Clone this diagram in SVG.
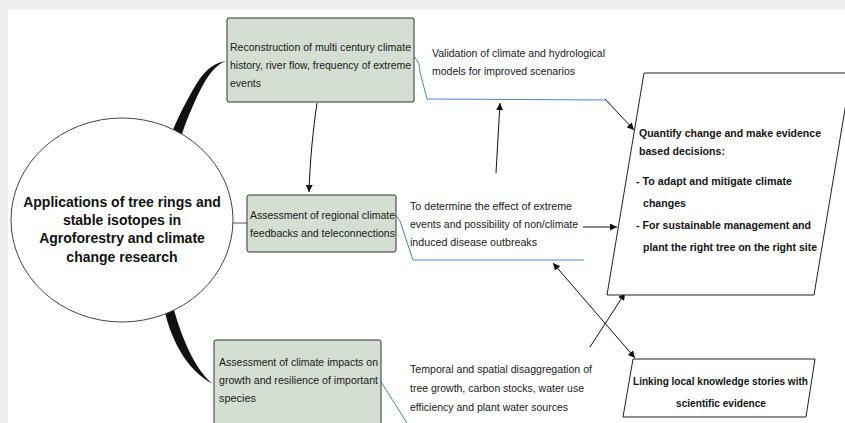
<svg xmlns="http://www.w3.org/2000/svg" width="845" height="423" viewBox="0 0 845 423">
<style>
  .t { font-family: "Liberation Sans", Arial, sans-serif; font-size: 11.5px; fill: #1a1a1a; }
  .b { font-family: "Liberation Sans", Arial, sans-serif; font-size: 11.5px; font-weight: bold; fill: #141414; }
  .h { font-family: "Liberation Sans", Arial, sans-serif; font-size: 14px; font-weight: bold; fill: #111; text-anchor: middle; }
  .box { fill: #d4ded2; stroke: #333; stroke-width: 1; }
  .para { fill: #fff; stroke: #222; stroke-width: 1; }
  .blue { fill: none; stroke: #4a86c0; stroke-width: 1; }
  .arr { fill: none; stroke: #111; stroke-width: 1; }
</style>
<defs>
  <marker id="ah" viewBox="0 0 10 10" refX="10" refY="5" markerWidth="8" markerHeight="7" markerUnits="userSpaceOnUse" orient="auto-start-reverse">
    <path d="M0,0 L10,5 L0,10 z" fill="#111"/>
  </marker>
</defs>
<rect x="0" y="0" width="845" height="423" fill="#efefef"/>
<rect x="8" y="9" width="837" height="414" fill="#ffffff"/>

<g id="connectors">
  <path d="M 227,61 C 215,62 205,70 197,83 C 189,96 180,113 172,132 L 182,134 C 188,116 196,98 203,85 C 210,72 218,63 227,61 Z" fill="#111"/>
  <path d="M 165,313 C 172,340 186,370 213,384 C 195,370 182,338 174,310 Z" fill="#111"/>
  <line x1="233" y1="223" x2="247" y2="223" stroke="#555" stroke-width="1"/>
  <path class="arr" d="M 317,103 C 313,130 310,160 309,192" marker-end="url(#ah)"/>
  <path class="blue" d="M 414,57 Q 420,62 420,72 L 427,99 L 605,100"/>
  <path class="arr" d="M 605,99 L 634,130" marker-end="url(#ah)"/>
  <path class="arr" d="M 496,173 L 500,103" marker-end="url(#ah)"/>
  <path class="blue" d="M 395,214 Q 401,220 403,230 L 413,260 L 584,260"/>
  <path class="arr" d="M 583,227 L 617,227" marker-end="url(#ah)"/>
  <path class="arr" d="M 553,263 L 635,358" marker-start="url(#ah)" marker-end="url(#ah)"/>
  <path class="arr" d="M 590,347 L 625,293" marker-end="url(#ah)"/>
  <path class="blue" d="M 381,382 L 407,423"/>
</g>

<g id="central">
  <ellipse cx="122" cy="220" rx="111" ry="102" fill="#fff" stroke="#444" stroke-width="1"/>
  <text class="h" x="122" y="207">Applications of tree rings and</text>
  <text class="h" x="122" y="225">stable isotopes in</text>
  <text class="h" x="122" y="243">Agroforestry and climate</text>
  <text class="h" x="122" y="262">change research</text>
</g>

<g id="reconstruction">
  <rect class="box" x="227" y="18" width="187" height="84" rx="2"/>
  <text class="t" x="230" y="51" textLength="181" lengthAdjust="spacingAndGlyphs">Reconstruction of multi century climate</text>
  <text class="t" x="230" y="69" textLength="181" lengthAdjust="spacingAndGlyphs">history, river flow, frequency of extreme</text>
  <text class="t" x="230" y="87" textLength="31" lengthAdjust="spacingAndGlyphs">events</text>
</g>

<g id="regional">
  <rect class="box" x="247" y="195" width="149" height="57" rx="2"/>
  <text class="t" x="250" y="219" textLength="145" lengthAdjust="spacingAndGlyphs">Assessment of regional climate</text>
  <text class="t" x="250" y="237" textLength="145" lengthAdjust="spacingAndGlyphs">feedbacks and teleconnections</text>
</g>

<g id="impacts">
  <rect class="box" x="214" y="340" width="167" height="100" rx="2"/>
  <text class="t" x="219" y="366" textLength="159" lengthAdjust="spacingAndGlyphs">Assessment of climate impacts on</text>
  <text class="t" x="219" y="384" textLength="159" lengthAdjust="spacingAndGlyphs">growth and resilience of important</text>
  <text class="t" x="219" y="402" textLength="37" lengthAdjust="spacingAndGlyphs">species</text>
</g>

<g id="validation">
  <text class="t" x="432" y="57" textLength="173" lengthAdjust="spacingAndGlyphs">Validation of climate and hydrological</text>
  <text class="t" x="432" y="75" textLength="143" lengthAdjust="spacingAndGlyphs">models for improved scenarios</text>
</g>

<g id="extreme">
  <text class="t" x="410" y="210" textLength="162" lengthAdjust="spacingAndGlyphs">To determine the effect of extreme</text>
  <text class="t" x="410" y="228" textLength="168" lengthAdjust="spacingAndGlyphs">events and possibility of non/climate</text>
  <text class="t" x="410" y="246" textLength="127" lengthAdjust="spacingAndGlyphs">induced disease outbreaks</text>
</g>

<g id="disaggregation">
  <text class="t" x="410" y="373" textLength="182" lengthAdjust="spacingAndGlyphs">Temporal and spatial disaggregation of</text>
  <text class="t" x="410" y="392" textLength="174" lengthAdjust="spacingAndGlyphs">tree growth, carbon stocks, water use</text>
  <text class="t" x="410" y="411" textLength="158" lengthAdjust="spacingAndGlyphs">efficiency and plant water sources</text>
</g>

<g id="quantify">
  <polygon class="para" points="644,73 851,73 814,295 607,295"/>
  <text class="b" x="639" y="137" textLength="182" lengthAdjust="spacingAndGlyphs">Quantify change and make evidence</text>
  <text class="b" x="639" y="155" textLength="86" lengthAdjust="spacingAndGlyphs">based decisions:</text>
  <text class="b" x="636" y="185" textLength="156" lengthAdjust="spacingAndGlyphs">- To adapt and mitigate climate</text>
  <text class="b" x="643" y="207" textLength="43" lengthAdjust="spacingAndGlyphs">changes</text>
  <text class="b" x="636" y="229" textLength="175" lengthAdjust="spacingAndGlyphs">- For sustainable management and</text>
  <text class="b" x="643" y="251" textLength="174" lengthAdjust="spacingAndGlyphs">plant the right tree on the right site</text>
</g>

<g id="linking">
  <polygon class="para" points="633,359 815,359 806,417 623,417"/>
  <text class="b" x="633" y="385" textLength="175" lengthAdjust="spacingAndGlyphs">Linking local knowledge stories with</text>
  <text class="b" x="676" y="407" textLength="90" lengthAdjust="spacingAndGlyphs">scientific evidence</text>
</g>
</svg>
